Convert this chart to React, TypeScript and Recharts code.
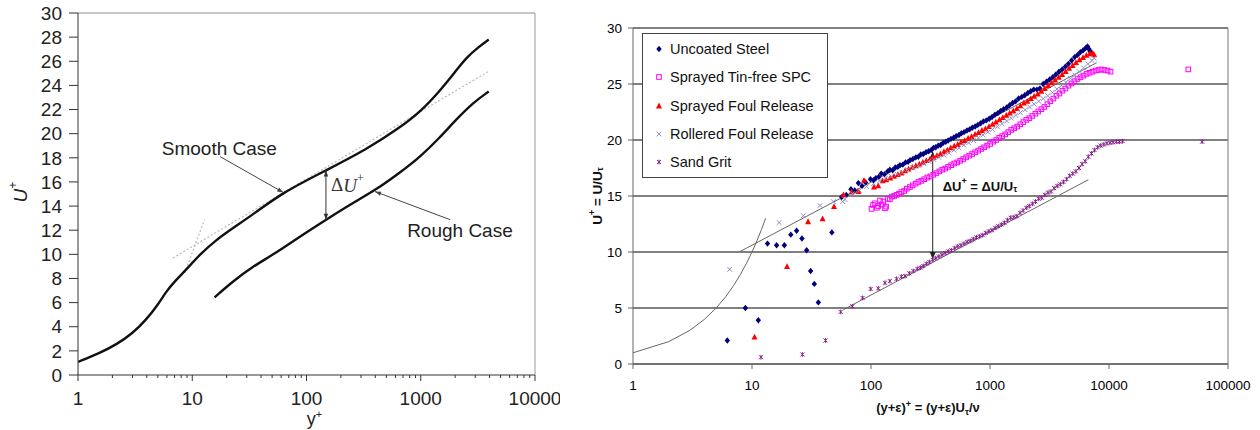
import React from "react";
import {
  ComposedChart,
  Line,
  Scatter,
  XAxis,
  YAxis,
  CartesianGrid,
  ReferenceLine,
  ReferenceDot,
  Legend,
  Label,
} from "recharts";

const FONT = '"Liberation Sans", Arial, sans-serif';

// ---- left panel: idealised smooth / rough wall profiles ----
const smoothYPlus = [1, 1.55, 2.16, 3.03, 3.96, 5.01, 5.93, 7.01, 8.86, 11.6, 16.2, 22.7, 33.9, 62.1, 148.6, 332, 651, 1000, 1456, 1969, 2493, 3260, 3935];
const smoothUPlus = [1.08, 1.82, 2.51, 3.48, 4.59, 5.83, 6.93, 7.76, 8.73, 9.97, 11.2, 12.18, 13.29, 15.14, 16.96, 18.67, 20.47, 21.85, 23.5, 25.03, 26.3, 27.24, 27.8];
const roughYPlus = [15.7, 22.7, 33.9, 50.8, 86.9, 148.6, 254, 407, 651, 1000, 1456, 2037, 2850, 3935];
const roughUPlus = [6.44, 7.76, 9.0, 9.95, 11.45, 12.87, 14.25, 15.36, 16.74, 18.12, 19.64, 21.16, 22.54, 23.5];
const leftLogLaw = [[6.78, 9.7], [3935, 25.17]];
const leftViscous = [[8.57, 8.45], [12.8, 12.87]];
const leftMajorTicks = [1, 10, 100, 1000, 10000];
const leftMinorTicks = [2, 3, 4, 5, 6, 7, 8, 9, 20, 30, 40, 50, 60, 70, 80, 90, 200, 300, 400, 500, 600, 700, 800, 900, 2000, 3000, 4000, 5000, 6000, 7000, 8000, 9000];
const leftYTicks = [0, 2, 4, 6, 8, 10, 12, 14, 16, 18, 20, 22, 24, 26, 28, 30];

// ---- right panel: measured profiles ----
const uncoatedSteel = [
  [6.2, 2.1], [8.8, 5.0], [11.3, 3.9], [13.5, 10.75], [16.1, 10.6], [18.7, 10.6], [21.2, 11.55], [23.7, 11.9], [26.3, 11.2], [28.8, 10.15], [31.1, 8.3], [33.4, 7.15], [36.1, 5.5], [46.9, 11.75],
  [56.7, 14.9], [62, 15.1], [67.9, 15.6], [73, 15.5], [78.3, 16.15], [84, 15.9], [90, 16.2], [99, 16.5], [105, 16.4], [110, 16.6], [116, 16.7], [122, 17.0], [130, 16.95], [138, 17.2], [144, 17.35], [152, 17.3], [160, 17.55], [168, 17.6], [175, 17.75], [185, 17.8], [195, 18.0], [205, 18.05], [213, 18.2], [225, 18.3], [238, 18.45], [250, 18.5], [262, 18.7], [275, 18.75], [290, 18.9], [305, 19.0], [320, 19.1], [335, 19.3], [350, 19.35], [368, 19.5], [385, 19.55], [405, 19.75], [425, 19.85], [445, 19.95], [470, 20.1], [495, 20.2], [520, 20.35], [548, 20.45], [575, 20.6], [605, 20.7], [640, 20.85], [675, 20.95], [710, 21.1], [750, 21.2], [790, 21.35], [835, 21.5], [880, 21.65], [930, 21.75], [985, 21.9], [1040, 22.05], [1100, 22.25], [1165, 22.4], [1230, 22.6], [1300, 22.75], [1380, 22.9], [1460, 23.1], [1550, 23.3], [1640, 23.45], [1740, 23.7], [1850, 23.85], [1960, 24.0], [2080, 24.2], [2200, 24.35], [2330, 24.5], [2480, 24.5], [2630, 24.6], [2800, 25.0], [2980, 25.2], [3170, 25.4], [3370, 25.6], [3580, 25.85], [3800, 26.1], [4040, 26.3], [4300, 26.55], [4560, 26.8], [4850, 27.1], [5150, 27.4], [5450, 27.6], [5750, 27.85], [6050, 28.0], [6350, 28.2], [6600, 28.35], [6800, 28.1], [6950, 27.9],
];
const sprayedTinFree = [
  [101, 13.85], [104, 14.2], [108, 14.35], [112, 13.95], [115, 14.1], [119, 14.6], [123, 14.25], [127, 14.5], [131, 13.9], [134, 14.05], [138, 14.75], [144, 14.7], [150, 14.95], [157, 15.0], [164, 15.1], [172, 15.2], [180, 15.35], [190, 15.45], [200, 15.65], [212, 15.8], [224, 15.95], [237, 16.1], [250, 16.25], [265, 16.35], [280, 16.5], [297, 16.65], [315, 16.75], [334, 16.9], [354, 17.05], [375, 17.2], [397, 17.35], [420, 17.45], [445, 17.6], [472, 17.75], [500, 17.9], [530, 18.0], [562, 18.15], [595, 18.3], [630, 18.45], [668, 18.6], [708, 18.75], [750, 18.9], [795, 19.05], [842, 19.2], [893, 19.35], [946, 19.5], [1003, 19.65], [1063, 19.85], [1127, 20.0], [1195, 20.2], [1266, 20.35], [1342, 20.5], [1423, 20.7], [1508, 20.9], [1598, 21.05], [1694, 21.2], [1796, 21.4], [1904, 21.6], [2018, 21.8], [2139, 21.95], [2267, 22.15], [2403, 22.35], [2547, 22.55], [2700, 22.75], [2862, 22.95], [3034, 23.2], [3216, 23.45], [3409, 23.7], [3614, 23.95], [3830, 24.15], [4060, 24.4], [4304, 24.6], [4562, 24.85], [4836, 25.05], [5126, 25.25], [5433, 25.45], [5759, 25.6], [6105, 25.75], [6471, 25.9], [6859, 26.0], [7271, 26.1], [7707, 26.2], [8169, 26.25], [8659, 26.3], [9179, 26.25], [9730, 26.2], [10300, 26.1], [46400, 26.3],
];
const sprayedFoulRelease = [
  [10.5, 2.4], [19.7, 8.7], [29.6, 12.7], [39.2, 12.95], [48.9, 14.05], [58.6, 15.1], [68.8, 15.35], [78.3, 15.4], [87.3, 16.4], [106, 15.8], [115, 15.9],
  [125, 16.35], [134, 16.45], [145, 16.6], [156, 16.75], [168, 16.9], [180, 17.05], [193, 17.25], [207, 17.4], [222, 17.55], [238, 17.7], [255, 17.85], [273, 18.0], [292, 18.15], [313, 18.3], [335, 18.45], [358, 18.6], [383, 18.75], [410, 18.95], [438, 19.1], [468, 19.3], [500, 19.45], [535, 19.6], [572, 19.8], [612, 19.95], [655, 20.15], [700, 20.3], [750, 20.5], [800, 20.65], [855, 20.85], [915, 21.0], [980, 21.2], [1050, 21.4], [1120, 21.6], [1200, 21.8], [1280, 22.0], [1370, 22.2], [1465, 22.4], [1570, 22.6], [1680, 22.8], [1800, 23.05], [1925, 23.3], [2060, 23.45], [2200, 23.7], [2350, 23.9], [2520, 24.1], [2700, 24.35], [2880, 24.6], [3080, 24.85], [3300, 25.1], [3530, 25.35], [3780, 25.6], [4040, 25.85], [4320, 26.1], [4620, 26.4], [4940, 26.65], [5280, 26.9], [5650, 27.15], [6040, 27.35], [6460, 27.55], [6900, 27.7], [7300, 27.75], [7500, 27.6],
];
const rolleredFoulRelease = [
  [6.5, 8.45], [16.9, 12.63], [27, 13.24], [37.3, 14.15], [48.2, 14.5], [57.8, 14.5], [60.4, 14.7],
  [70, 15.2], [80, 15.5], [92, 15.85], [105, 16.1], [118, 16.35], [132, 16.55], [148, 16.75], [165, 16.95], [183, 17.1], [203, 17.35], [225, 17.5], [250, 17.7], [277, 17.9], [306, 18.1], [338, 18.25], [372, 18.45], [410, 18.65], [452, 18.85], [498, 19.1], [548, 19.3], [603, 19.55], [662, 19.75], [727, 19.95], [798, 20.2], [875, 20.45], [960, 20.7], [1050, 20.95], [1150, 21.2], [1260, 21.45], [1380, 21.7], [1510, 21.95], [1650, 22.2], [1800, 22.45], [1970, 22.7], [2150, 22.95], [2350, 23.2], [2570, 23.45], [2800, 23.7], [3060, 23.95], [3340, 24.25], [3650, 24.55], [3980, 24.85], [4340, 25.15], [4730, 25.5], [5160, 25.8], [5620, 26.1], [6120, 26.45], [6650, 26.8], [7200, 27.1], [7500, 27.3],
];
const sandGrit = [
  [11.9, 0.6], [26.5, 0.85], [41.5, 2.1], [55.6, 4.65], [69.7, 5.15], [85, 5.9], [99.4, 6.7], [115, 6.75], [131, 7.25], [144, 7.4], [164, 7.6], [180, 7.8], [193, 7.85], [210, 8.1], [227, 8.3], [245, 8.5], [260, 8.6], [275, 8.75], [292, 8.95], [310, 9.1], [330, 9.3], [350, 9.45], [372, 9.6], [395, 9.75], [420, 9.9], [446, 10.05], [474, 10.15], [505, 10.35], [536, 10.5], [570, 10.6], [605, 10.75], [643, 10.9], [683, 11.0], [725, 11.15], [770, 11.3], [818, 11.4], [868, 11.5], [922, 11.7], [980, 11.85], [1040, 11.95], [1105, 12.15], [1173, 12.3], [1246, 12.45], [1323, 12.6], [1405, 12.85], [1492, 13.05], [1585, 13.1], [1683, 13.2], [1787, 13.5], [1898, 13.7], [2016, 13.95], [2140, 14.1], [2273, 14.3], [2414, 14.5], [2563, 14.75], [2722, 14.85], [2890, 15.1], [3070, 15.3], [3259, 15.4], [3461, 15.7], [3676, 15.9], [3903, 16.05], [4145, 16.25], [4402, 16.5], [4674, 16.8], [4964, 17.0], [5271, 17.2], [5598, 17.5], [5944, 17.85], [6312, 18.1], [6703, 18.5], [7118, 18.8], [7559, 19.1], [8027, 19.35], [8524, 19.5], [9052, 19.6], [9612, 19.7], [10207, 19.75], [10840, 19.8], [11510, 19.85], [12230, 19.85], [12990, 19.9], [60600, 19.85],
];
const rightViscous = [[1, 1], [2, 2], [3, 3], [4, 4], [5, 5], [6, 6], [7, 7], [8, 8], [9, 9], [10, 10], [11, 11], [12, 12], [13, 13]];
const rightSmoothLog = [[7.8, 10.0], [7880, 26.9]];
const rightRoughLog = [[58.6, 4.85], [6700, 16.45]];
const rightXTicks = [1, 10, 100, 1000, 10000, 100000];
const rightYTicks = [0, 5, 10, 15, 20, 25, 30];

const toRows = (pairs: number[][]) => pairs.map(([x, u]) => ({ x, u }));
const zipRows = (xs: number[], us: number[]) => xs.map((x, i) => ({ x, u: us[i] }));

// ---- marker shapes ----
const Diamond = (p: any) => (
  <path d={`M${p.cx},${p.cy - 3.2}L${p.cx + 2.7},${p.cy}L${p.cx},${p.cy + 3.2}L${p.cx - 2.7},${p.cy}Z`} fill="#000080" />
);
const OpenSquare = (p: any) => (
  <rect x={p.cx - 2.3} y={p.cy - 2.3} width={4.6} height={4.6} fill="none" stroke="#ff00ff" strokeWidth={1} />
);
const Tri = (p: any) => (
  <path d={`M${p.cx},${p.cy - 3.4}L${p.cx + 3},${p.cy + 2.4}L${p.cx - 3},${p.cy + 2.4}Z`} fill="#ff0000" />
);
const XMark = (color: string, s: number, w: number) => (p: any) => (
  <path d={`M${p.cx - s},${p.cy - s}L${p.cx + s},${p.cy + s}M${p.cx - s},${p.cy + s}L${p.cx + s},${p.cy - s}`} stroke={color} strokeWidth={w} fill="none" />
);
const RollMark = XMark("#8a90c8", 2.4, 1);
const GritMark = (p: any) => (
  <path d={`M${p.cx - 2},${p.cy - 2}L${p.cx + 2},${p.cy + 2}M${p.cx - 2},${p.cy + 2}L${p.cx + 2},${p.cy - 2}M${p.cx},${p.cy - 2.4}L${p.cx},${p.cy + 2.4}`} stroke="#86208a" strokeWidth={1} fill="none" />
);

const rightSeries = [
  { name: "Uncoated Steel", data: uncoatedSteel, shape: Diamond },
  { name: "Sprayed Tin-free SPC", data: sprayedTinFree, shape: OpenSquare },
  { name: "Sprayed Foul Release", data: sprayedFoulRelease, shape: Tri },
  { name: "Rollered Foul Release", data: rolleredFoulRelease, shape: RollMark },
  { name: "Sand Grit", data: sandGrit, shape: GritMark },
];

// ---- arrows for annotations ----
function head(x: number, y: number, fx: number, fy: number, len: number, half: number, color: string) {
  const a = Math.atan2(y - fy, x - fx);
  const bx = x - len * Math.cos(a);
  const by = y - len * Math.sin(a);
  const px = -Math.sin(a) * half;
  const py = Math.cos(a) * half;
  return <path d={`M${x},${y}L${bx + px},${by + py}L${bx - px},${by - py}Z`} fill={color} />;
}
const makeArrow = (both: boolean, color: string, len: number, half: number) => (p: any) => {
  const { x1, y1, x2, y2 } = p;
  return (
    <g>
      <line x1={x1} y1={y1} x2={x2} y2={y2} stroke={color} strokeWidth={1} />
      {head(x2, y2, x1, y1, len, half, color)}
      {both && head(x1, y1, x2, y2, len, half, color)}
    </g>
  );
};

const LeftXTick = (props: any) => {
  const { x, y, payload } = props;
  const major = leftMajorTicks.includes(payload.value);
  return (
    <g>
      <line x1={x} y1={y} x2={x} y2={y + (major ? 6 : 3)} stroke="#333" strokeWidth={1} />
      {major && (
        <text x={x} y={y + 30} textAnchor="middle" fontSize={19} fill="#222" fontFamily={FONT}>
          {payload.value}
        </text>
      )}
    </g>
  );
};

const textAt = (content: React.ReactNode, extra: any) => (p: any) => (
  <text x={p.cx} y={p.cy} dominantBaseline="central" {...extra}>
    {content}
  </text>
);

function LeftPanel() {
  return (
    <ComposedChart width={560} height={430} margin={{ top: 13, right: 25, bottom: 0, left: 0 }}>
      <XAxis
        dataKey="x"
        type="number"
        scale="log"
        domain={[1, 10000]}
        allowDataOverflow
        ticks={[...leftMajorTicks, ...leftMinorTicks]}
        interval={0}
        tickLine={false}
        tickSize={0}
        tickMargin={0}
        tick={LeftXTick}
        axisLine={{ stroke: "#333" }}
        height={55}
      >
        <Label
          content={({ viewBox }: any) => (
            <text x={viewBox.x + viewBox.width / 2 + 8} y={viewBox.y + 50} textAnchor="middle" fontSize={18} fill="#222" fontFamily={FONT}>
              y<tspan dy={-7} fontSize={11}>+</tspan>
            </text>
          )}
        />
      </XAxis>
      <YAxis
        dataKey="u"
        type="number"
        domain={[0, 30]}
        ticks={leftYTicks}
        interval={0}
        width={78}
        tickSize={9}
        tickMargin={7}
        tickLine={{ stroke: "#333" }}
        axisLine={{ stroke: "#333" }}
        tick={{ fontSize: 19, fill: "#222", fontFamily: FONT }}
      >
        <Label
          content={({ viewBox }: any) => {
            const cx = viewBox.x + 20;
            const cy = viewBox.y + viewBox.height / 2 - 2;
            return (
              <text x={cx} y={cy} transform={`rotate(-90, ${cx}, ${cy})`} textAnchor="middle" dominantBaseline="central" fontSize={19} fill="#222" fontFamily={FONT} fontStyle="italic">
                U<tspan dy={-7} fontSize={12}>+</tspan>
              </text>
            );
          }}
        />
      </YAxis>
      <ReferenceLine y={30} stroke="#b5b5b5" strokeWidth={1.5} />
      <ReferenceLine x={10000} stroke="#999" strokeWidth={1} />
      <Line data={toRows(leftLogLaw)} dataKey="u" type="linear" stroke="#bdbdbd" strokeWidth={1.3} strokeDasharray="2 2" dot={false} isAnimationActive={false} />
      <Line data={toRows(leftViscous)} dataKey="u" type="linear" stroke="#bdbdbd" strokeWidth={1.3} strokeDasharray="2 2" dot={false} isAnimationActive={false} />
      <Line data={zipRows(smoothYPlus, smoothUPlus)} dataKey="u" type="basis" stroke="#111" strokeWidth={2.4} dot={false} isAnimationActive={false} />
      <Line data={zipRows(roughYPlus, roughUPlus)} dataKey="u" type="basis" stroke="#111" strokeWidth={2.4} dot={false} isAnimationActive={false} />
      <ReferenceLine segment={[{ x: 17.5, y: 18.1 }, { x: 62.6, y: 15.13 }]} shape={makeArrow(false, "#444", 6, 2.2)} />
      <ReferenceLine segment={[{ x: 1811, y: 12.87 }, { x: 398, y: 15.2 }]} shape={makeArrow(false, "#444", 6, 2.2)} />
      <ReferenceLine segment={[{ x: 148, y: 16.95 }, { x: 148, y: 12.87 }]} shape={makeArrow(true, "#333", 6, 2.2)} />
      <ReferenceDot x={5.41} y={18.8} r={0} shape={textAt("Smooth Case", { fontSize: 19, fill: "#222", fontFamily: FONT })} />
      <ReferenceDot x={760} y={11.96} r={0} shape={textAt("Rough Case", { fontSize: 19, fill: "#222", fontFamily: FONT })} />
      <ReferenceDot
        x={164}
        y={15.77}
        r={0}
        shape={textAt(
          <>
            Δ<tspan fontStyle="italic">U</tspan>
            <tspan dy={-7} fontSize={12}>+</tspan>
          </>,
          { fontSize: 19, fill: "#333", fontFamily: '"Liberation Serif", "DejaVu Serif", serif' }
        )}
      />
    </ComposedChart>
  );
}

const RightLegend = () => (
  <div style={{ border: "1px solid #444", background: "#fff", width: 184, padding: "1px 0", fontFamily: FONT, fontSize: 14.5, color: "#111" }}>
    {rightSeries.map((s) => (
      <div key={s.name} style={{ height: 28.3, display: "flex", alignItems: "center" }}>
        <svg width={12} height={10} style={{ marginLeft: 10, marginRight: 5 }}>
          {s.shape({ cx: 6, cy: 5 })}
        </svg>
        <span>{s.name}</span>
      </div>
    ))}
  </div>
);

function RightPanel() {
  return (
    <ComposedChart width={680} height={430} margin={{ top: 28, right: 32, bottom: 0, left: 0 }}>
      <CartesianGrid horizontal vertical={false} stroke="#808080" strokeWidth={1.8} />
      <XAxis
        dataKey="x"
        type="number"
        scale="log"
        domain={[1, 100000]}
        allowDataOverflow
        ticks={rightXTicks}
        interval={0}
        tickSize={5}
        tickMargin={11}
        tickLine={{ stroke: "#666" }}
        axisLine={{ stroke: "#666" }}
        tick={{ fontSize: 13.5, fill: "#000", fontFamily: FONT }}
        height={66}
      >
        <Label
          content={({ viewBox }: any) => (
            <text x={viewBox.x + 295} y={viewBox.y + 48} textAnchor="middle" fontSize={13} fontWeight="bold" fill="#111" fontFamily={FONT}>
              (y+ε)<tspan dy={-5} fontSize={9}>+</tspan>
              <tspan dy={5}> = (y+ε)U</tspan>
              <tspan dy={3} fontSize={9}>τ</tspan>
              <tspan dy={-3}>/ν</tspan>
            </text>
          )}
        />
      </XAxis>
      <YAxis
        dataKey="u"
        type="number"
        domain={[0, 30]}
        ticks={rightYTicks}
        interval={0}
        width={53}
        tickSize={5}
        tickMargin={6}
        tickLine={{ stroke: "#666" }}
        axisLine={{ stroke: "#666" }}
        tick={{ fontSize: 13.5, fill: "#000", fontFamily: FONT }}
      >
        <Label
          content={({ viewBox }: any) => {
            const cx = viewBox.x + 17;
            const cy = viewBox.y + viewBox.height / 2;
            return (
              <text x={cx} y={cy} transform={`rotate(-90, ${cx}, ${cy})`} textAnchor="middle" dominantBaseline="central" fontSize={13.5} fontWeight="bold" fill="#111" fontFamily={FONT}>
                U<tspan dy={-5} fontSize={9}>+</tspan>
                <tspan dy={5}> = U/U</tspan>
                <tspan dy={3} fontSize={9}>τ</tspan>
              </text>
            );
          }}
        />
      </YAxis>
      <ReferenceLine x={100000} stroke="#8c8c8c" strokeWidth={1.2} />
      <Line data={toRows(rightViscous)} dataKey="u" type="linear" stroke="#666" strokeWidth={1} dot={false} isAnimationActive={false} legendType="none" />
      <Line data={toRows(rightSmoothLog)} dataKey="u" type="linear" stroke="#666" strokeWidth={1} dot={false} isAnimationActive={false} legendType="none" />
      <Line data={toRows(rightRoughLog)} dataKey="u" type="linear" stroke="#666" strokeWidth={1} dot={false} isAnimationActive={false} legendType="none" />
      {rightSeries.map((s) => (
        <Scatter key={s.name} name={s.name} data={toRows(s.data)} shape={s.shape} isAnimationActive={false} />
      ))}
      <ReferenceLine segment={[{ x: 330, y: 18.98 }, { x: 330, y: 9.37 }]} shape={makeArrow(true, "#222", 7, 3)} />
      <ReferenceDot
        x={400}
        y={15.86}
        r={0}
        shape={textAt(
          <>
            ΔU<tspan dy={-5} fontSize={9}>+</tspan>
            <tspan dy={5}> = ΔU/U</tspan>
            <tspan dy={3} fontSize={9}>τ</tspan>
          </>,
          { fontSize: 13, fontWeight: "bold", fill: "#111", fontFamily: FONT }
        )}
      />
      <Legend
        layout="vertical"
        align="center"
        verticalAlign="middle"
        wrapperStyle={{ left: 62, top: 33, width: 186, height: 146 }}
        content={RightLegend}
      />
    </ComposedChart>
  );
}

export default function App() {
  return (
    <div style={{ position: "absolute", left: 0, top: 0, width: 1260, height: 430, background: "#fff" }}>
      <div style={{ position: "absolute", left: 0, top: 0 }}>
        <LeftPanel />
      </div>
      <div style={{ position: "absolute", left: 580, top: 0 }}>
        <RightPanel />
      </div>
    </div>
  );
}
